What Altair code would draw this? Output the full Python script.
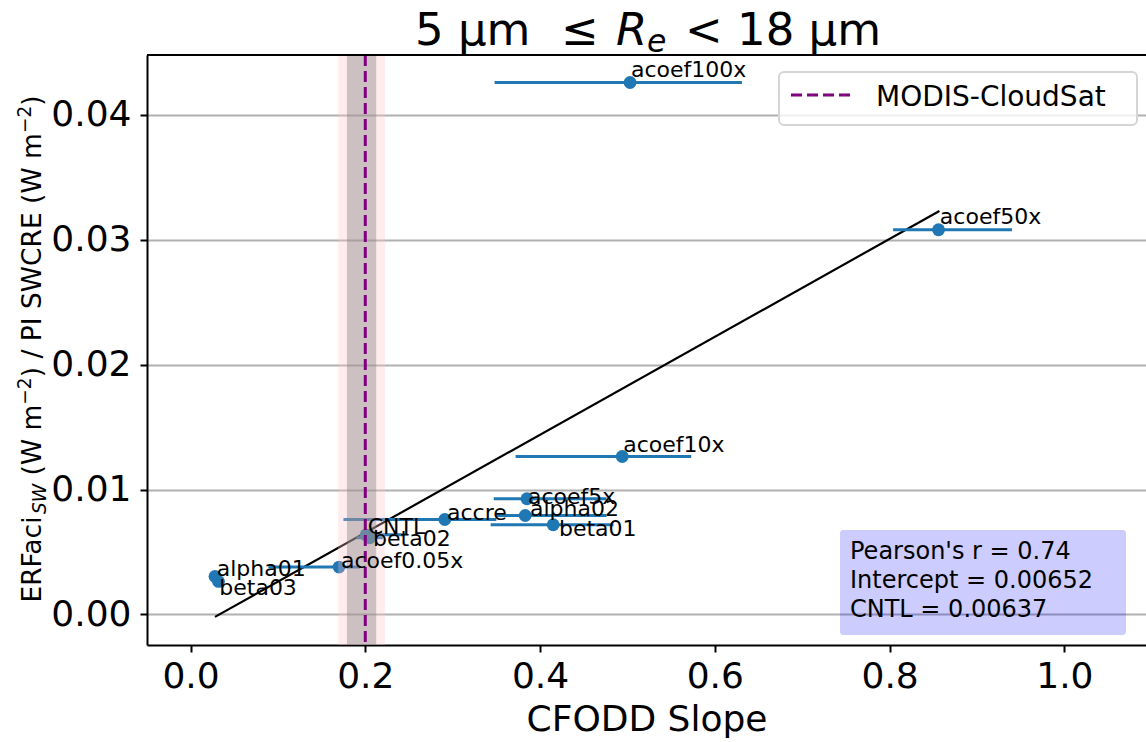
import altair as alt
import pandas as pd

# ---------------- data ----------------
names = ["acoef100x", "acoef50x", "acoef10x", "acoef5x", "alpha02", "beta01",
         "accre", "CNTL", "beta02", "acoef0.05x", "alpha01", "beta03"]
slope = [0.503, 0.856, 0.494, 0.385, 0.383, 0.415, 0.291, 0.201, 0.205, 0.170, 0.028, 0.032]
erfaci = [0.04259, 0.0308, 0.01264, 0.00926, 0.00792, 0.00718, 0.0076, 0.00637, 0.00614,
          0.00379, 0.00304, 0.00264]
slope_lo = [0.348, 0.804, 0.372, 0.347, 0.350, 0.3435, 0.175, 0.197, 0.190, 0.089, 0.026, 0.030]
slope_hi = [0.631, 0.940, 0.573, 0.476, 0.476, 0.484, 0.350, 0.243, 0.220, 0.194, 0.030, 0.034]
# text anchor positions of the point labels (data units)
label_x = [0.504, 0.8575, 0.4952, 0.3862, 0.3884, 0.4216, 0.2935, 0.2027, 0.2089, 0.1722, 0.0300, 0.0329]
label_y = [0.0430, 0.03128, 0.01299, 0.00886, 0.00786, 0.00630, 0.00758, 0.00646, 0.0055,
           0.00374, 0.00307, 0.00152]

fit_x = [0.028, 0.857]
fit_y = [-0.0002, 0.0323]

modis_x = [0.2]
band_inner = [0.179, 0.2125]
band_outer = [0.169, 0.2225]
legend_label = "MODIS-CloudSat"

stats_lines = ["Pearson's r = 0.74", "Intercept = 0.00652", "CNTL = 0.00637"]

x_ticks = [0.0, 0.2, 0.4, 0.6, 0.8, 1.0]
y_ticks = [0.0, 0.01, 0.02, 0.03, 0.04]
x_title = "CFODD Slope"

# ---------------- layout ----------------
W, H = 999, 590
FONT = "DejaVu Sans"
BLUE = "#1f77b4"
xs = alt.Scale(domain=[-0.0498, 1.0934], nice=False, zero=False)
ys = alt.Scale(domain=[-0.00245, 0.04479], nice=False, zero=False)

xaxis = alt.Axis(values=x_ticks, format=".1f", title=x_title, grid=False,
                 labelFontSize=36, titleFontSize=36, tickSize=7, tickWidth=2,
                 domainWidth=2, labelPadding=7, titlePadding=8, titleFontWeight="normal",
                 labelFlush=False, labelOverlap=False, domainColor="black", tickColor="black",
                 labelColor="black", titleColor="black", labelFont=FONT, titleFont=FONT)
yaxis = alt.Axis(values=y_ticks, format=".2f", title="", grid=True, gridColor="#b0b0b0",
                 gridWidth=2, labelFontSize=36, tickSize=7, tickWidth=2, domainWidth=2,
                 labelPadding=9, labelFlush=False, labelOverlap=False, domainColor="black",
                 tickColor="black", labelColor="black", labelFont=FONT)

df_pts = pd.DataFrame({"name": names, "x": slope, "y": erfaci, "xlo": slope_lo,
                       "xhi": slope_hi, "lx": label_x, "ly": label_y})
df_fit = pd.DataFrame({"x": fit_x, "y": fit_y})
df_in = pd.DataFrame({"x": [band_inner[0]], "b": [band_inner[1]]})
df_out = pd.DataFrame({"x": [band_outer[0]], "b": [band_outer[1]]})
df_modis = pd.DataFrame({"x": modis_x})
one = pd.DataFrame({"k": [0]})

X = lambda f: alt.X(f, scale=xs, axis=xaxis, title=x_title)
Y = lambda f: alt.Y(f, scale=ys, axis=yaxis, title="")

fit = alt.Chart(df_fit).mark_line(color="black", strokeWidth=2.2).encode(
    x=X("x:Q"), y=Y("y:Q"))

errbars = alt.Chart(df_pts).mark_rule(color=BLUE, strokeWidth=3).encode(
    x=X("xlo:Q"), x2="xhi:Q", y=Y("y:Q"))

points = alt.Chart(df_pts).mark_circle(size=165, color=BLUE, opacity=1).encode(
    x=X("x:Q"), y=Y("y:Q"))

band_o = alt.Chart(df_out).mark_rect(color="pink", opacity=0.3).encode(
    x=X("x:Q"), x2="b:Q")
band_i = alt.Chart(df_in).mark_rect(color="gray", opacity=0.4).encode(
    x=X("x:Q"), x2="b:Q")

modis = alt.Chart(df_modis).mark_rule(color="purple", strokeWidth=3, strokeDash=[11, 5]).encode(
    x=X("x:Q"))

labels = alt.Chart(df_pts).mark_text(align="left", baseline="alphabetic", fontSize=22,
                                     font=FONT, color="black").encode(
    x=X("lx:Q"), y=Y("ly:Q"), text="name:N")


def txt(t, x, y, size, **kw):
    return alt.Chart(one).mark_text(text=t, fontSize=size, font=FONT, color="black",
                                    align=kw.pop("align", "left"),
                                    baseline=kw.pop("baseline", "alphabetic"), **kw).encode(
        x=alt.value(x), y=alt.value(y))


# legend
leg_box = alt.Chart(one).mark_rect(fill="white", fillOpacity=0.8, stroke="#d5d5d5",
                                   strokeWidth=2, cornerRadius=5).encode(
    x=alt.value(632), x2=alt.value(990), y=alt.value(17), y2=alt.value(70))
leg_line = alt.Chart(one).mark_rule(color="purple", strokeWidth=3, strokeDash=[11, 5]).encode(
    x=alt.value(644), x2=alt.value(705), y=alt.value(40))
leg_text = txt(legend_label, 729, 51, 28)

# statistics box
stat_box = alt.Chart(one).mark_rect(fill="blue", fillOpacity=0.2, cornerRadius=3).encode(
    x=alt.value(693), x2=alt.value(979), y=alt.value(475), y2=alt.value(580))
stat_txt = [txt(s, 703, 504 + 29 * i, 24) for i, s in enumerate(stats_lines)]

top_spine = alt.Chart(one).mark_rule(color="black", strokeWidth=2).encode(
    x=alt.value(0), x2=alt.value(W), y=alt.value(0))

# title: 5 µm ≤ R_e < 18 µm
TF = 45
title_parts = [
    txt("5 μm", 268, -10, TF),
    txt("≤", 414, -10, TF),
    txt("R", 469, -10, TF, fontStyle="italic"),
    txt("e", 500, -3, TF * 0.7, fontStyle="italic"),
    txt("<", 538, -10, TF),
    txt("18 μm", 590, -10, TF),
]

# y-axis title with sub/superscripts, rotated (leading spaces become offsets)
adv = {" ": .318, "(": .390, ")": .390, "/": .337, "−": .838, "2": .636, "E": .632,
       "R": .695, "F": .575, "a": .613, "c": .550, "i": .278, "S": .635, "W": .989,
       "m": .974, "P": .603, "I": .295, "C": .698}
YF = 26.5
segs = [("ERFaci", 1.0, "normal", 0), ("SW", 0.7, "italic", 5), (" (W m", 1.0, "normal", 0),
        ("−2", 0.7, "normal", -10), (") / PI SWCRE (W m", 1.0, "normal", 0),
        ("−2", 0.7, "normal", -10), (")", 1.0, "normal", 0)]
widths = [sum(adv[c] for c in s) * YF * sc for s, sc, _, _ in segs]
total = sum(widths)
ystart = 294 + total / 2
ylabel_parts = []
cum = 0.0
for (s, sc, style, shift), w in zip(segs, widths):
    lead = len(s) - len(s.lstrip(" "))
    off = lead * adv[" "] * YF * sc
    ylabel_parts.append(txt(s.lstrip(" "), -106 + shift, ystart - cum - off, YF * sc,
                            angle=270, fontStyle=style))
    cum += w

chart = alt.layer(
    fit, errbars, points, band_o, band_i, modis, labels,
    leg_box, leg_line, leg_text, stat_box, *stat_txt, top_spine,
    *title_parts, *ylabel_parts
).properties(
    width=W, height=H,
    padding={"left": 147, "top": 55, "right": 0, "bottom": 97},
    autosize=alt.AutoSizeParams(type="none"),
    background="white",
).configure_view(strokeWidth=0)

chart.save("out.html", embed_options={"renderer": "svg", "actions": False})
